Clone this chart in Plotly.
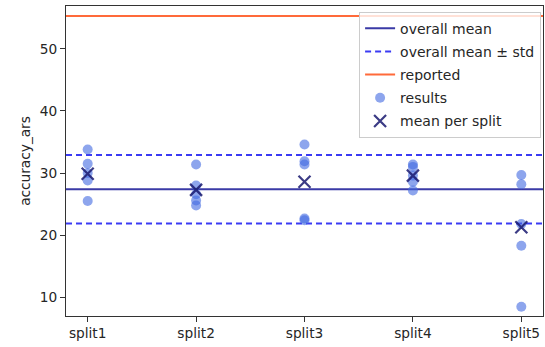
import plotly.graph_objects as go

splits = ["split1", "split2", "split3", "split4", "split5"]
results = [
    [33.8, 31.5, 30.0, 28.8, 25.5],
    [31.4, 28.0, 26.6, 25.6, 24.8],
    [34.6, 31.9, 31.4, 22.7, 22.4],
    [31.4, 31.0, 29.6, 28.6, 27.2],
    [29.7, 28.2, 21.8, 18.3, 8.5],
]
mean_per_split = [29.9, 27.3, 28.6, 29.6, 21.3]
overall_mean = 27.4
overall_std = 5.5
reported = 55.3

x_range = [-0.2, 4.2]
y_range = [7.0, 56.9]
FONT = "DejaVu Sans"
FS = 14

fig = go.Figure()

fig.add_trace(go.Scatter(
    x=x_range, y=[overall_mean] * 2, mode="lines", name="overall mean",
    line=dict(color="#3a3aa6", width=2), legendgroup="g1"))
fig.add_trace(go.Scatter(
    x=x_range, y=[overall_mean + overall_std] * 2, mode="lines",
    name="overall mean ± std",
    line=dict(color="#3b3bf3", width=2, dash="6px,4px"), legendgroup="g2"))
fig.add_trace(go.Scatter(
    x=x_range, y=[overall_mean - overall_std] * 2, mode="lines",
    name="overall mean ± std", showlegend=False,
    line=dict(color="#3b3bf3", width=2, dash="6px,4px"), legendgroup="g2"))
fig.add_trace(go.Scatter(
    x=x_range, y=[reported] * 2, mode="lines", name="reported",
    line=dict(color="#ff6a3a", width=2), legendgroup="g3"))

px, py = [], []
for i, vals in enumerate(results):
    for v in vals:
        px.append(i)
        py.append(v)
fig.add_trace(go.Scatter(
    x=px, y=py, mode="markers", name="results",
    marker=dict(color="royalblue", opacity=0.6, size=10, line=dict(width=0)),
    legendgroup="g4"))
fig.add_trace(go.Scatter(
    x=list(range(len(splits))), y=mean_per_split, mode="markers",
    name="mean per split",
    marker=dict(symbol="x-thin", size=12, opacity=0.85,
                line=dict(color="#191970", width=2.2)),
    legendgroup="g5"))

fig.update_layout(
    width=545, height=347,
    margin=dict(l=66, r=2, t=6, b=31),
    paper_bgcolor="white", plot_bgcolor="white",
    font=dict(family=FONT, size=FS - 0.3, color="#262626"),
    showlegend=True,
    legend=dict(x=0.996, y=0.982, xanchor="right", yanchor="top",
                bgcolor="rgba(255,255,255,0.8)", bordercolor="#cccccc",
                borderwidth=1, traceorder="grouped", tracegroupgap=2,
                font=dict(family=FONT, size=FS, color="#262626")),
    xaxis=dict(range=x_range, tickmode="array",
               tickvals=list(range(len(splits))), ticktext=splits,
               showgrid=False, zeroline=False, showline=True, mirror=True,
               linecolor="#333333", linewidth=1, ticks="outside", ticklen=5,
               tickcolor="#333333"),
    yaxis=dict(range=y_range, tickvals=[10, 20, 30, 40, 50],
               showgrid=False, zeroline=False, showline=True, mirror=True,
               linecolor="#333333", linewidth=1, ticks="outside", ticklen=5,
               tickcolor="#333333",
               title=dict(text="accuracy_ars", standoff=6,
                          font=dict(family=FONT, size=FS - 0.3))),
)

fig.write_html("out.html", config={"displayModeBar": False},
               post_script="document.body.style.margin='0';document.body.style.padding='0';")
